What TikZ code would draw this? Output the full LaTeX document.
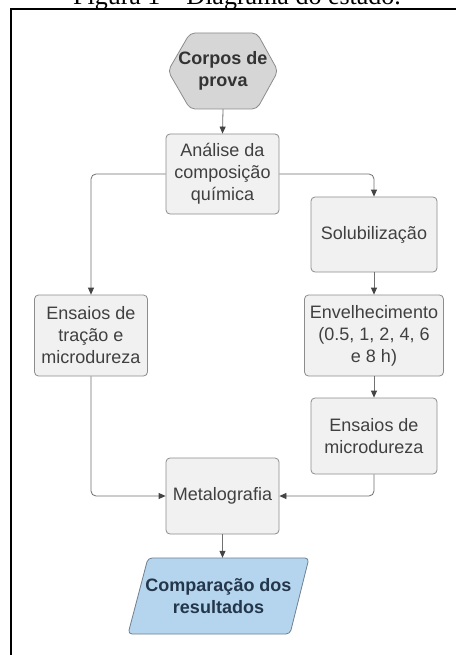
\documentclass[tikz,border=0pt]{standalone}
\usepackage{fontspec}
\setmainfont{Liberation Sans}
\newfontfamily\titlefont{Liberation Serif}
\usetikzlibrary{arrows.meta}
\definecolor{boxfill}{HTML}{F1F1F1}
\definecolor{boxline}{HTML}{8C8C8C}
\definecolor{hexfill}{HTML}{D6D6D6}
\definecolor{txt}{HTML}{404040}
\definecolor{hextxt}{HTML}{333333}
\definecolor{linecol}{HTML}{707070}
\definecolor{arrowcol}{HTML}{444444}
\definecolor{compfill}{HTML}{B5D5EF}
\definecolor{compline}{HTML}{6F7F8F}
\definecolor{comptxt}{HTML}{24364A}
\begin{document}
\begin{tikzpicture}[x=1pt,y=-1pt,
  box/.style={draw=boxline, fill=boxfill, rounded corners=4pt, line width=0.8pt,
    inner sep=0pt, align=center, text=txt, font=\fontsize{18}{22}\selectfont},
  ghost/.style={inner sep=0pt, align=center, font=\fontsize{18}{22}\selectfont\bfseries},
  conn/.style={draw=linecol, line width=0.8pt, rounded corners=5pt,
    -{Triangle[length=7pt,width=6pt,color=arrowcol,fill=arrowcol]}},
  frameline/.style={draw=black, line width=2pt}
]
\useasboundingbox (0,0) rectangle (456,655);
\clip (0,0) rectangle (456,655);
\fill[white] (0,0) rectangle (456,655);

% caption (cut off at top)
\node[font=\titlefont\fontsize{26}{30}\selectfont, anchor=base, inner sep=0pt] (title) at (237,5) {Figura 1 – Diagrama do estado.};

% frame
\draw[frameline] (10,9) -- (456,9);
\draw[frameline] (11,8) -- (11,655);

% start hexagon
\draw[draw=boxline, fill=hexfill, line width=0.8pt, rounded corners=5pt]
  (168,71) -- (190,33) -- (257,33) -- (278,71) -- (257,109) -- (190,109) -- cycle;
\node[ghost, text=hextxt, minimum width=110pt, minimum height=76pt] (corpos) at (223,71) {Corpos de\\prova};

% process boxes
\node[box, minimum width=113pt, minimum height=80pt] (analise) at (222.5,174) {Análise da\\composição\\química};
\node[box, minimum width=126pt, minimum height=75pt] (sol) at (374,234.5) {Solubilização};
\node[box, minimum width=139pt, minimum height=81pt] (env) at (374,335.5) {Envelhecimento\\(0.5, 1, 2, 4, 6\\e 8 h)};
\node[box, minimum width=113pt, minimum height=81pt] (tracao) at (91,335.5) {Ensaios de\\tração e\\microdureza};
\node[box, minimum width=126pt, minimum height=76pt] (micro) at (374,436) {Ensaios de\\microdureza};
\node[box, minimum width=113pt, minimum height=76pt] (metal) at (222.5,496) {Metalografia};

% result parallelogram
\draw[draw=compline, fill=compfill, line width=0.8pt, rounded corners=4pt]
  (148,558) -- (309,558) -- (290,634) -- (128,634) -- cycle;
\node[ghost, text=comptxt, minimum width=160pt, minimum height=76pt] (comp) at (218.5,596) {Comparação dos\\resultados};

% connectors
\draw[conn] (corpos.south) -- (analise.north);
\draw[conn] (analise.west) -| (tracao.north);
\draw[conn] (analise.east) -| (sol.north);
\draw[conn] (sol.south) -- (env.north);
\draw[conn] (env.south) -- (micro.north);
\draw[conn] (tracao.south) |- (metal.west);
\draw[conn] (micro.south) |- (metal.east);
\draw[conn] (metal.south) -- (metal.south |- comp.north);
\end{tikzpicture}
\end{document}
